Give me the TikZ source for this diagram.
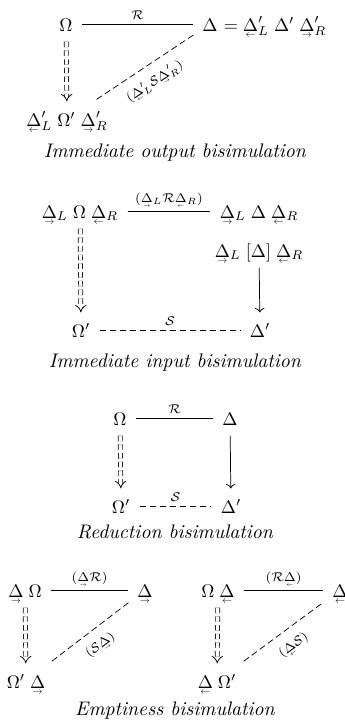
\documentclass[tikz,border=0pt]{standalone}
\usepackage{amsmath}
\usepackage{graphicx}
\usetikzlibrary{arrows.meta}

\newcommand{\rDelta}{\mathord{\mbox{\ooalign{$\Delta$\cr\hidewidth\smash{\raisebox{-0.78ex}{\resizebox{0.55em}{!}{$\rightarrow$}}}\hidewidth\cr}}}}
\newcommand{\lDelta}{\mathord{\mbox{\ooalign{$\Delta$\cr\hidewidth\smash{\raisebox{-0.78ex}{\resizebox{0.55em}{!}{$\leftarrow$}}}\hidewidth\cr}}}}

\begin{document}
\begin{tikzpicture}[
        x=0.55pt, y=-0.55pt,
        obj/.style={inner sep=3pt, text height=2.4ex, text depth=0.6ex},
        lab/.style={font=\scriptsize, inner sep=2.5pt},
        rel/.style={shorten <=2pt, shorten >=2pt},
        weak/.style={dash pattern=on 3.5pt off 2pt, shorten <=2pt, shorten >=2pt},
        steps/.style={double, double distance=1.8pt, dash pattern=on 3pt off 1.8pt, -{Implies}},
        reduce/.style={-{To}},
        capt/.style={font=\fontsize{10.8}{13}\selectfont\itshape, anchor=base}
    ]
        \useasboundingbox (0,0) rectangle (345,727);

        % Immediate output bisimulation
        \node[obj] (om1) at (66,24) {$\Omega$};
        \node[obj] (de1) at (210,24) {$\Delta$};
        \node[obj, anchor=west, inner xsep=0pt] (eq1) at (de1.east) {$= \lDelta'_L\;\Delta'\;\rDelta'_R$};
        \node[obj] (bl1) at (67,119) {$\lDelta'_L\;\Omega'\;\rDelta'_R$};
        \draw[rel] (om1) -- node[lab, above] {$\mathcal{R}$} (de1);
        \draw[steps] (om1) -- (bl1);
        \draw[weak] (bl1) -- node[lab, below=3pt, sloped] {$(\lDelta'_L\mathcal{S}\rDelta'_R)$} (de1);
        \node[capt] (cap1) at (175,157) {Immediate output bisimulation};

        % Immediate input bisimulation
        \node[obj] (tl2) at (80,211) {$\rDelta_L\;\Omega\;\lDelta_R$};
        \node[obj] (tr2) at (259,211) {$\rDelta_L\;\Delta\;\lDelta_R$};
        \node[obj] (mr2) at (259,250) {$\rDelta_L\;[\Delta]\;\lDelta_R$};
        \node[obj] (bl2) at (81,330) {$\Omega'$};
        \node[obj] (br2) at (260,330) {$\Delta'$};
        \draw[rel] (tl2) -- node[lab, above] {$(\rDelta_L\mathcal{R}\lDelta_R)$} (tr2);
        \draw[steps] (tl2) -- (bl2);
        \draw[reduce] (mr2) -- (br2);
        \draw[weak] (bl2) -- node[lab, above] {$\mathcal{S}$} (br2);
        \node[capt] (cap2) at (175,367) {Immediate input bisimulation};

        % Reduction bisimulation
        \node[obj] (om3) at (120,418) {$\Omega$};
        \node[obj] (de3) at (230,418) {$\Delta$};
        \node[obj] (om3p) at (121,506) {$\Omega'$};
        \node[obj] (de3p) at (231,506) {$\Delta'$};
        \draw[rel] (om3) -- node[lab, above] {$\mathcal{R}$} (de3);
        \draw[steps] (om3) -- (om3p);
        \draw[reduce] (de3) -- (de3p);
        \draw[weak] (om3p) -- node[lab, above] {$\mathcal{S}$} (de3p);
        \node[capt] (cap3) at (175,538) {Reduction bisimulation};

        % Emptiness bisimulation, left
        \node[obj] (tl4) at (25,590) {$\rDelta\;\Omega$};
        \node[obj] (tr4) at (145,590) {$\rDelta$};
        \node[obj] (bl4) at (26,681) {$\Omega'\;\rDelta$};
        \draw[rel] (tl4) -- node[lab, above] {$(\rDelta\mathcal{R})$} (tr4);
        \draw[steps] (tl4) -- (bl4);
        \draw[weak] (bl4) -- node[lab, below=3pt, sloped] {$(\mathcal{S}\rDelta)$} (tr4);

        % Emptiness bisimulation, right
        \node[obj] (tl5) at (218,590) {$\Omega\;\lDelta$};
        \node[obj] (tr5) at (340,590) {$\lDelta$};
        \node[obj] (bl5) at (217,681) {$\lDelta\;\Omega'$};
        \draw[rel] (tl5) -- node[lab, above] {$(\mathcal{R}\lDelta)$} (tr5);
        \draw[steps] (tl5) -- (bl5);
        \draw[weak] (bl5) -- node[lab, below=3pt, sloped] {$(\lDelta\mathcal{S})$} (tr5);
        \node[capt] (cap4) at (175,715) {Emptiness bisimulation};

    \end{tikzpicture}
\end{document}
